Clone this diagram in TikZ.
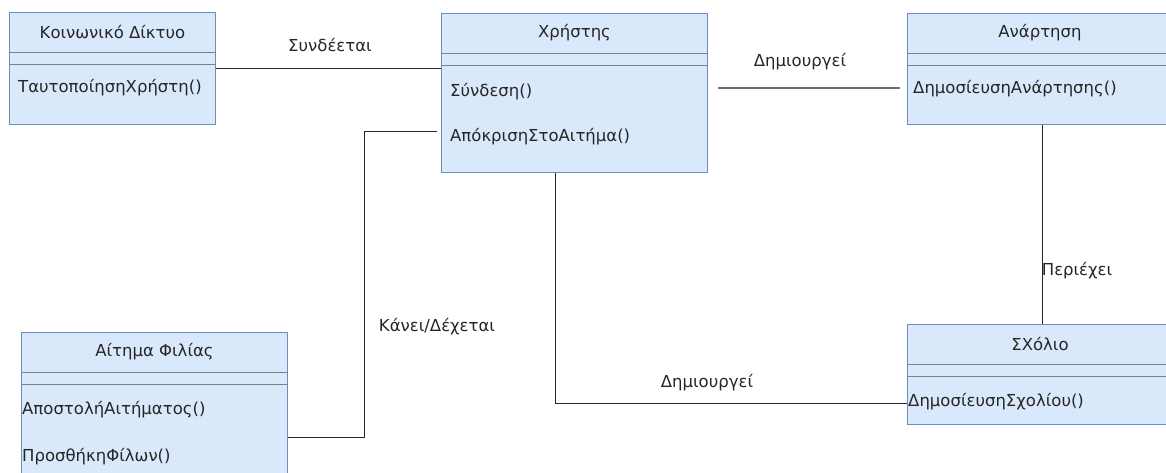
\documentclass[tikz,border=0pt]{standalone}
\usepackage{fontspec}
\setmainfont{DejaVu Sans}
\usepackage{xcolor}
\usetikzlibrary{positioning,calc}
\definecolor{clsfill}{RGB}{218,232,252}
\definecolor{clsdraw}{RGB}{108,142,191}
\definecolor{sepgray}{RGB}{130,130,130}
\definecolor{lnkgray}{RGB}{110,110,110}

\begin{document}
\begin{tikzpicture}[
  x=1pt, y=-1pt,
  C/.style = {draw=clsdraw, fill=clsfill, line width=1pt, anchor=north west,
              inner sep=0pt, minimum width=266pt},
  T/.style = {font=\fontsize{16.5}{19}\selectfont, text=black!85, inner sep=0pt},
  M/.style = {T, anchor=west},
  sep/.style = {draw=sepgray, line width=1pt},
  lnk/.style = {draw=black!85, line width=1pt},
  glnk/.style = {draw=lnkgray, line width=2pt}
]
\useasboundingbox (0,0) rectangle (1166,472);

% class boxes
\node[C, minimum width=206pt, minimum height=112pt] (net)  at (9,12)    {};
\node[C, minimum height=159pt]                      (user) at (441,13)  {};
\node[C, minimum height=111pt]                      (post) at (907,13)  {};
\node[C, minimum height=100pt]                      (cmt)  at (907,324) {};
\node[C, minimum height=159pt]                      (req)  at (21,332)  {};

% header / attribute separators
\foreach \b in {net,user,post,cmt,req}{
  \draw[sep] ([yshift=-40pt]\b.north west) -- ([yshift=-40pt]\b.north east);
  \draw[sep] ([yshift=-52pt]\b.north west) -- ([yshift=-52pt]\b.north east);
}

% class names
\node[T] (netT)  at ($(net.north)+(0,20)$)  {Κοινωνικό Δίκτυο};
\node[T] (userT) at ($(user.north)+(0,20)$) {Χρήστης};
\node[T] (postT) at (1040,33)               {Ανάρτηση};
\node[T] (cmtT)  at (1040,344)              {ΣΧόλιο};
\node[T] (reqT)  at ($(req.north)+(0,20)$)  {Αίτημα Φιλίας};

% operations
\node[M] (netM)   at (18,88)   {ΤαυτοποίησηΧρήστη()};
\node[M] (userM1) at (450,92)  {Σύνδεση()};
\node[M] (userM2) at (450,137) {ΑπόκρισηΣτοΑιτήμα()};
\node[M] (postM)  at (913,89)  {ΔημοσίευσηΑνάρτησης()};
\node[M] (cmtM)   at (908,402) {ΔημοσίευσηΣχολίου()};
\node[M] (reqM1)  at (22,410)  {ΑποστολήΑιτήματος()};
\node[M] (reqM2)  at (22,457)  {ΠροσθήκηΦίλων()};

% associations
\draw[lnk] ([yshift=-56pt]net.north east) -- ([yshift=-55pt]user.north west);
\draw[glnk] ([xshift=10pt,yshift=-75pt]user.north east)
         -- ([xshift=-7pt,yshift=-75pt]post.north west);
\draw[lnk] ([yshift=-105pt]req.north east) -- ++(76,0)
        |- ([xshift=-4pt,yshift=-118pt]user.north west);
\draw[lnk] ([xshift=114pt]user.south west) |- ([yshift=-79pt]cmt.north west);
\draw[lnk] ([xshift=135pt]post.south west) -- ([xshift=135pt]cmt.north west);

% association labels
\node[T] (l1) at (330,45)  {Συνδέεται};
\node[T] (l2) at (800,62)  {Δημιουργεί};
\node[T] (l3) at (437,327) {Κάνει/Δέχεται};
\node[T] (l4) at (707,383) {Δημιουργεί};
\node[T] (l5) at (1077,271) {Περιέχει};

\end{tikzpicture}
\end{document}
